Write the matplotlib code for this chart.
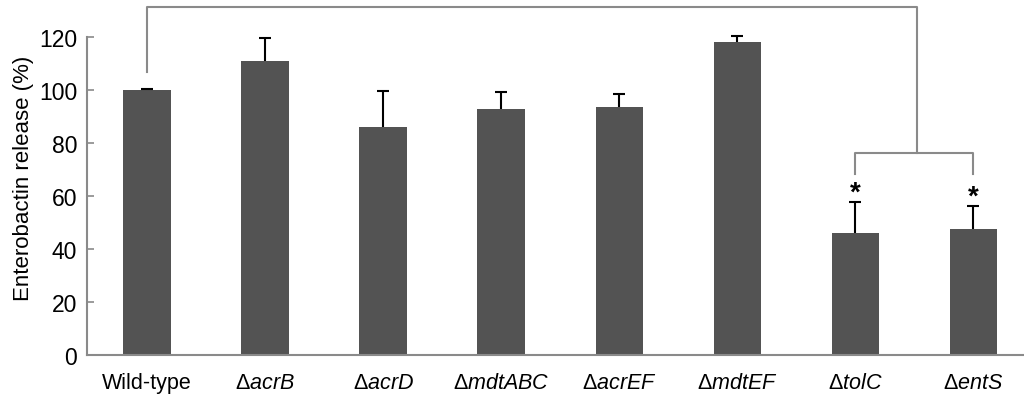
import matplotlib
matplotlib.use("Agg")
import matplotlib.pyplot as plt
import numpy as np

plt.rcParams['font.family'] = ['Liberation Sans', 'DejaVu Sans']
plt.rcParams['mathtext.fontset'] = 'custom'
plt.rcParams['mathtext.rm'] = 'Liberation Sans'
plt.rcParams['mathtext.it'] = 'Liberation Sans:italic'

# data
strains = ['Wild-type', r'$\Delta\mathit{acrB}$', r'$\Delta\mathit{acrD}$', r'$\Delta\mathit{mdtABC}$',
           r'$\Delta\mathit{acrEF}$', r'$\Delta\mathit{mdtEF}$', r'$\Delta\mathit{tolC}$', r'$\Delta\mathit{entS}$']
release = [100, 111, 86, 92.8, 93.6, 118.2, 46.2, 47.6]
err = [0.4, 8.4, 13.6, 6.4, 5.0, 2.2, 11.6, 8.7]
signif = [False, False, False, False, False, False, True, True]

grey = '#8a8a8a'
bar_col = '#535353'

fig = plt.figure(figsize=(10.24, 4.02), dpi=100)
ax = fig.add_axes([0.085, 0.1144, 0.915, 0.8856])

x = np.arange(len(strains))
release = np.array(release)
err = np.array(err)
ax.bar(x, release, width=0.4, color=bar_col, zorder=2)
# upper error bars only
ax.vlines(x, release, release + err, color='black', lw=1.5, zorder=3)
ax.hlines(release + err, x - 0.05, x + 0.05, color='black', lw=1.5, zorder=3)

# significance stars
for i, s in enumerate(signif):
    if s:
        ax.text(x[i], release[i] + err[i] - 1.5, '*', ha='center', va='bottom',
                fontsize=20, fontweight='bold')

# brackets
ax.plot([6, 6, 7, 7], [68.3, 76.2, 76.2, 68.3], color=grey, lw=1.5, clip_on=False)
ax.plot([0, 0, 6.52, 6.52], [106.8, 131.3, 131.3, 76.2], color=grey, lw=1.5, clip_on=False)

ax.set_xlim(-0.508, 7.43)
ax.set_ylim(0, 134.3)
ax.set_yticks(np.arange(0, 121, 20))
ax.set_xticks(x)
ax.set_xticklabels(strains, fontsize=15.5)
ax.tick_params(axis='x', length=0, pad=12)
ax.tick_params(axis='y', direction='in', length=5, color=grey, width=1.2, labelsize=16.5, pad=7)
ax.set_ylabel('Enterobactin release (%)', fontsize=16, labelpad=4)

for side in ['top', 'right']:
    ax.spines[side].set_visible(False)
ax.spines['left'].set_bounds(0, 120)
ax.spines['left'].set_color(grey)
ax.spines['bottom'].set_color(grey)
ax.spines['left'].set_linewidth(1.5)
ax.spines['bottom'].set_linewidth(1.5)

fig.savefig('out.png', dpi=100)
